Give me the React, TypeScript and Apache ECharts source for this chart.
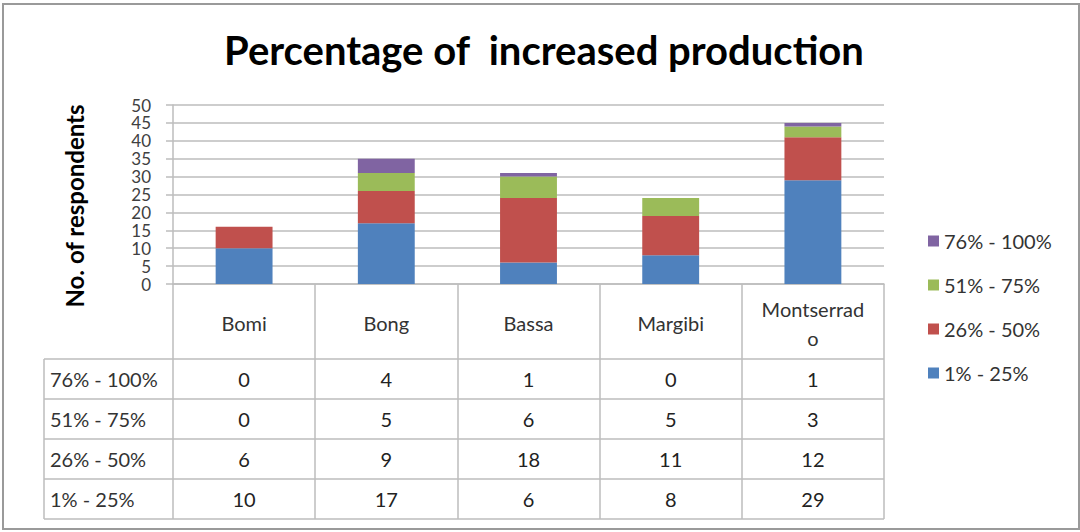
import React, { useEffect, useRef } from 'react';
import * as echarts from 'echarts';

const categories = ['Bomi', 'Bong', 'Bassa', 'Margibi', 'Montserrado'];
const seriesNames = ['1% - 25%', '26% - 50%', '51% - 75%', '76% - 100%'];
const values1to25 = [10, 17, 6, 8, 29];
const values26to50 = [6, 9, 18, 11, 12];
const values51to75 = [0, 5, 6, 5, 3];
const values76to100 = [0, 4, 1, 0, 1];
const seriesColors = ['#4F81BD', '#C0504D', '#9BBB59', '#8064A2'];
const yMin = 0;
const yMax = 50;
const yStep = 5;

const FONT = "Lato, 'Open Sans', sans-serif";

export default function App() {
  const ref = useRef<HTMLDivElement>(null);

  useEffect(() => {
    document.body.style.margin = '0';
    const chart = echarts.init(ref.current!, null, { renderer: 'svg' });

    const seriesValues = [values1to25, values26to50, values51to75, values76to100];

    const gridLeft = 173;
    const gridRight = 884;
    const gridTop = 105;
    const gridBottom = 284;
    const tableLeft = 44;
    const rowLines = [359, 399, 439, 479, 519];
    const colW = (gridRight - gridLeft) / categories.length;

    const graphics: any[] = [];
    graphics.push({
      type: 'rect',
      shape: { x: 3, y: 4, width: 1076, height: 525 },
      style: { fill: 'none', stroke: '#9a9a9a', lineWidth: 2 },
      silent: true,
    });
    rowLines.forEach((y) => {
      graphics.push({
        type: 'line',
        shape: { x1: tableLeft, y1: y, x2: gridRight, y2: y },
        style: { stroke: '#BDBDBD', lineWidth: 1.5 },
        silent: true,
      });
    });
    graphics.push({
      type: 'line',
      shape: { x1: tableLeft, y1: rowLines[0], x2: tableLeft, y2: rowLines[rowLines.length - 1] },
      style: { stroke: '#BDBDBD', lineWidth: 1.5 },
      silent: true,
    });
    // table rows, top row = last series
    const rowOrder = [3, 2, 1, 0];
    rowOrder.forEach((si, r) => {
      const cy = (rowLines[r] + rowLines[r + 1]) / 2;
      graphics.push({
        type: 'text',
        x: tableLeft + 6,
        y: cy,
        style: {
          text: seriesNames[si],
          fontFamily: FONT,
          fontSize: 20,
          fill: '#333',
          align: 'left',
          verticalAlign: 'middle',
        },
        silent: true,
      });
      seriesValues[si].forEach((v, ci) => {
        graphics.push({
          type: 'text',
          x: gridLeft + colW * (ci + 0.5),
          y: cy,
          style: {
            text: String(v),
            fontFamily: FONT,
            fontSize: 20,
            fill: '#222',
            align: 'center',
            verticalAlign: 'middle',
          },
          silent: true,
        });
      });
    });
    graphics.push({
      type: 'text',
      x: 74,
      y: 206,
      rotation: Math.PI / 2,
      style: {
        text: 'No. of respondents',
        fontFamily: FONT,
        fontSize: 24,
        fontWeight: 'bold',
        fill: '#000',
        align: 'center',
        verticalAlign: 'middle',
      },
      silent: true,
    });

    chart.setOption({
      animation: false,
      backgroundColor: '#fff',
      title: {
        text: 'Percentage of  increased production',
        left: 539,
        textAlign: 'center',
        top: 25,
        textStyle: { fontFamily: FONT, fontSize: 40, fontWeight: 'bold', color: '#000' },
      },
      legend: {
        orient: 'vertical',
        left: 923,
        top: 226,
        itemWidth: 11,
        itemHeight: 11,
        itemGap: 24,
        icon: 'rect',
        data: [seriesNames[3], seriesNames[2], seriesNames[1], seriesNames[0]],
        textStyle: { fontFamily: FONT, fontSize: 20, color: '#333', padding: [0, 0, 0, 0] },
      },
      grid: { left: gridLeft, top: gridTop, width: gridRight - gridLeft, height: gridBottom - gridTop, containLabel: false },
      xAxis: {
        type: 'category',
        data: categories,
        axisLine: { lineStyle: { color: '#BDBDBD', width: 1.5 } },
        axisTick: { show: true, interval: 0, length: 235, lineStyle: { color: '#BDBDBD', width: 1.5 } },
        axisLabel: {
          interval: 0,
          margin: 39,
          verticalAlign: 'middle',
          lineHeight: 29,
          fontFamily: FONT,
          fontSize: 20,
          color: '#333',
          formatter: (v: string) => (v.length > 10 ? v.slice(0, 10) + '\n' + v.slice(10) : v),
        },
      },
      yAxis: {
        type: 'value',
        min: yMin,
        max: yMax,
        interval: yStep,
        axisLine: { show: true, lineStyle: { color: '#BDBDBD', width: 1.5 } },
        axisTick: { show: true, length: 7, lineStyle: { color: '#BDBDBD', width: 1.5 } },
        splitLine: { lineStyle: { color: '#BDBDBD', width: 1.5 } },
        axisLabel: {
          fontFamily: FONT,
          fontSize: 17,
          lineHeight: 16,
          color: '#404040',
          margin: 22,
          showMinLabel: true,
          showMaxLabel: true,
          hideOverlap: false,
        },
      },
      series: seriesNames.map((name, i) => ({
        name,
        type: 'bar',
        stack: 'total',
        barWidth: '40%',
        data: seriesValues[i],
        itemStyle: { color: seriesColors[i] },
      })),
      graphic: graphics,
    });

    return () => chart.dispose();
  }, []);

  return <div ref={ref} style={{ width: 1080, height: 532 }} />;
}
